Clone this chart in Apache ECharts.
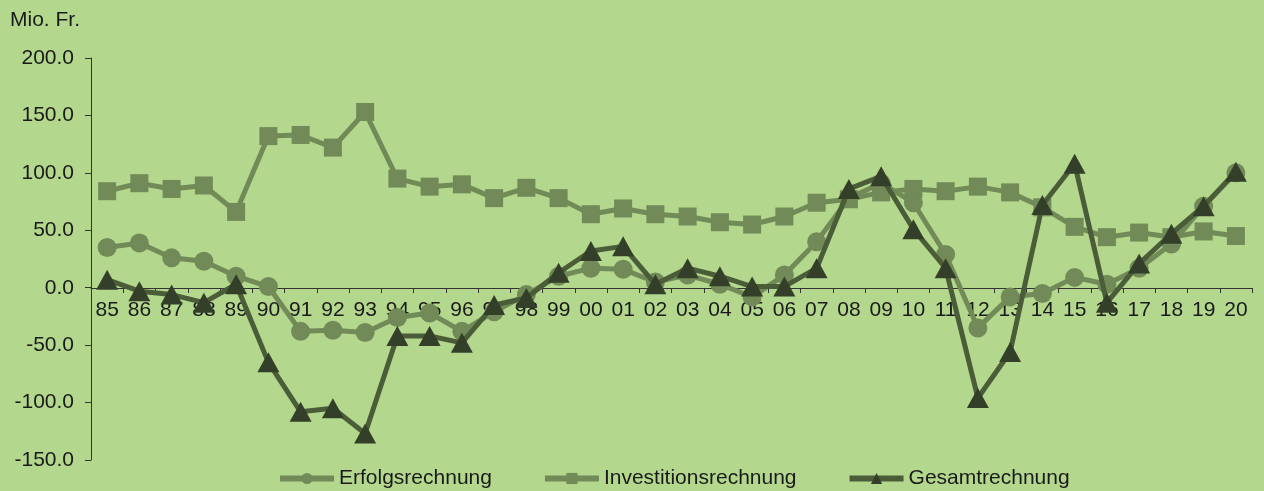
<!DOCTYPE html>
<html>
<head>
<meta charset="utf-8">
<script src="https://cdn.jsdelivr.net/npm/echarts@6/dist/echarts.min.js"></script>
<style>
html, body { margin: 0; padding: 0; background: #b3d88d; }
#chart { width: 1264px; height: 491px; }
</style>
</head>
<body>
<div id="chart"></div>
<script>
const years = ['85','86','87','88','89','90','91','92','93','94','95','96','97','98','99',
  '00','01','02','03','04','05','06','07','08','09','10','11','12','13','14','15','16','17','18','19','20'];

const erfolg = [35, 39, 26, 23, 10, 1, -38, -37, -39, -26, -22, -38, -21, -6, 10,
  17, 16, 5, 11, 3, -8, 11, 40, 78, 91, 74, 29, -35, -8, -5, 9, 3, 17, 38, 71, 100];

const investition = [84, 91, 86, 89, 66, 132, 133, 122, 153, 95, 88, 90, 78, 87, 78,
  64, 69, 64, 62, 57, 55, 62, 74, 77, 83, 86, 84, 88, 83, 70, 53, 44, 48, 44, 49, 45];

const gesamt = [7, -3, -6, -13, 3, -65, -108, -105, -127, -42, -42, -48, -15, -9, 13,
  32, 36, 3, 17, 10, 1, 1, 17, 86, 97, 51, 17, -96, -56, 72, 108, -13, 21, 47, 71, 101];

const yTicks = [-150, -100, -50, 0, 50, 100, 150, 200];

const bg = '#b3d88d'
const olive = '#718a58'
const darkLine = '#4a5d38'
const darkMark = '#333f28'
const textColor = '#1a1a1a'
const font = 'Liberation Sans, Arial, sans-serif'

const gridTop = 58
const gridBottom = 31
const chartH = 491

const chart = echarts.init(document.getElementById('chart'))

// the x axis sits at 0, so shift it up from the grid bottom by hand
const plotH = chartH - gridTop - gridBottom
const yMin = yTicks[0], yMax = yTicks[yTicks.length - 1]
const zeroShift = -Math.round(plotH * (0 - yMin) / (yMax - yMin))

const option = {
  backgroundColor: bg,
  animation: false,
  title: {
    text: 'Mio. Fr.',
    left: 5,
    top: 5,
    textStyle: { color: textColor, fontSize: 21, fontWeight: 'normal', fontFamily: font }
  },
  legend: {
    left: 272,
    top: 463,
    itemWidth: 54,
    itemHeight: 14,
    itemGap: 50,
    lineStyle: { width: 6 },
    textStyle: { color: textColor, fontSize: 21, fontFamily: font },
    data: ['Erfolgsrechnung', 'Investitionsrechnung', 'Gesamtrechnung']
  },
  grid: { left: 91, right: 12, top: gridTop, bottom: gridBottom },
  xAxis: {
    type: 'category',
    data: years,
    boundaryGap: true,
    offset: zeroShift,
    axisLine: { onZero: false, lineStyle: { color: '#333', width: 1 } },
    axisTick: { show: true, length: 5, lineStyle: { color: '#333' } },
    axisLabel: { color: textColor, fontSize: 21, fontFamily: font, margin: 12, interval: 0 }
  },
  yAxis: {
    type: 'value',
    min: yMin,
    max: yMax,
    interval: 50,
    splitLine: { show: false },
    axisLine: { show: true, lineStyle: { color: '#333', width: 1 } },
    axisTick: { show: true, length: 6, lineStyle: { color: '#333' } },
    axisLabel: {
      color: textColor, fontSize: 21, fontFamily: font, margin: 17,
      formatter: v => v.toFixed(1)
    }
  },
  series: [
    {
      name: 'Erfolgsrechnung',
      type: 'line',
      data: erfolg,
      symbol: 'circle',
      symbolSize: 19,
      lineStyle: { color: olive, width: 5 },
      itemStyle: { color: olive },
      z: 2
    },
    {
      name: 'Investitionsrechnung',
      type: 'line',
      data: investition,
      symbol: 'rect',
      symbolSize: 18,
      lineStyle: { color: olive, width: 5 },
      itemStyle: { color: olive },
      z: 3
    },
    {
      name: 'Gesamtrechnung',
      type: 'line',
      data: gesamt,
      symbol: 'triangle',
      symbolSize: [22, 20],
      lineStyle: { color: darkLine, width: 5 },
      itemStyle: { color: darkMark },
      z: 4
    }
  ]
}

chart.setOption(option)
</script>
</body>
</html>
